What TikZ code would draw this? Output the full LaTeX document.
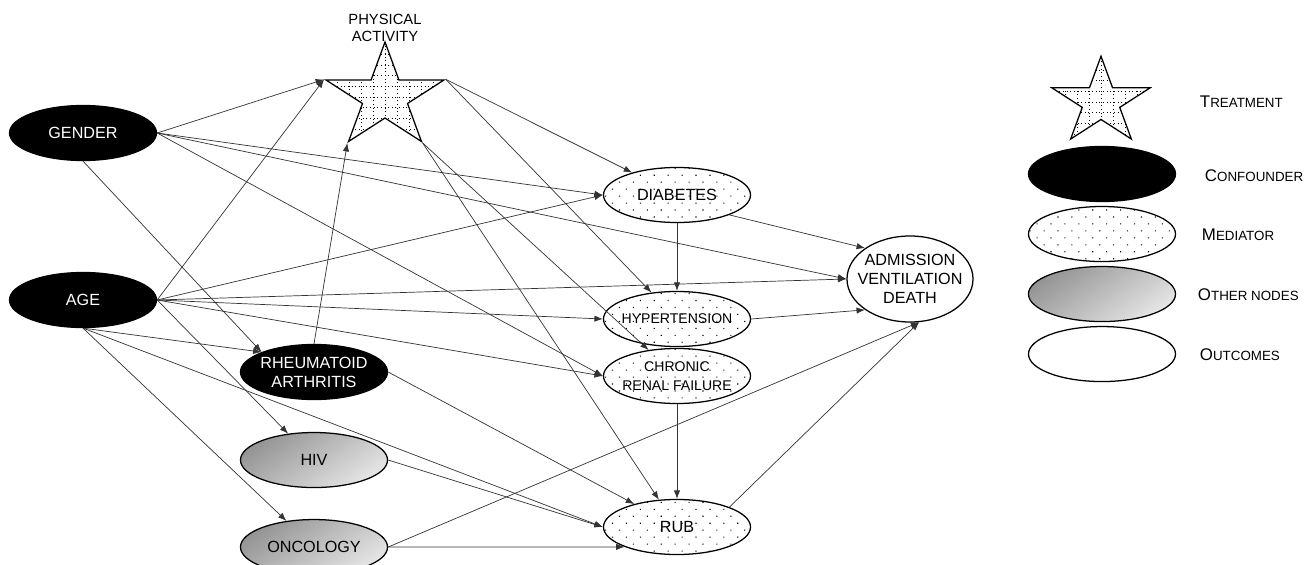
\documentclass[tikz,border=0pt]{standalone}
\usepackage{fontspec}
\setmainfont{Liberation Sans}
\usetikzlibrary{arrows.meta,shapes,positioning,patterns.meta}
\tikzset{>={Latex[length=6pt,width=4.5pt]}}
\newcommand\smc[2]{#1{\fontsize{9.5}{11}\selectfont #2}}

\tikzset{
  base/.style={ellipse, draw, line width=0.9pt, minimum width=3.675cm,
    minimum height=1.375cm, inner xsep=-8pt, inner ysep=0pt, align=center,
    font=\fontsize{11.5}{13.5}\selectfont},
  confounder/.style={base, fill=black, text=white},
  mediator/.style={base, preaction={fill=white},
    pattern={Dots[distance=7pt, radius=0.55pt, angle=45]}},
  other/.style={base, top color=black!42, bottom color=black!10, shading angle=35},
  outcome/.style={base, fill=white},
  treatment/.style={star, star points=5, star point ratio=2.618, draw,
    line width=0.9pt, inner sep=0pt, transform shape,
    path picture={\draw[dotted, line width=0.6pt, step=0.3cm]
      (path picture bounding box.south west) grid (path picture bounding box.north east);}},
  legtext/.style={anchor=west, font=\fontsize{12}{14}\selectfont},
  every edge/.append style={draw=black!80, line width=0.5pt}
}

\begin{document}
\begin{tikzpicture}[x=0.025cm, y=0.025cm]
  \useasboundingbox (0,0) rectangle (1304,-565);

  % treatment
  \begin{scope}[shift={(385,-97)}, yscale=0.887]
    \node[treatment, minimum size=3.1cm] (pa) at (0,0) {};
  \end{scope}
  \node[align=center, inner sep=0pt, font=\fontsize{10.5}{12}\selectfont,
    above=-1pt of pa.outer point 1] (palabel) {PHYSICAL\\ACTIVITY};

  % confounders and other nodes
  \node[confounder] (gender) at (83,-133) {GENDER};
  \node[confounder] (age) at (83,-300) {AGE};
  \node[confounder] (ra) at (314,-372) {RHEUMATOID\\ARTHRITIS};
  \node[other, below of=ra, node distance=2.2cm] (hiv) {HIV};
  \node[other, below of=hiv, node distance=2.175cm] (onc) {ONCOLOGY};

  % mediators
  \node[mediator] (diab) at (677,-195) {DIABETES};
  \node[mediator, font=\fontsize{10}{13.5}\selectfont] (hyp) at (677,-319) {HYPERTENSION};
  \node[mediator, font=\fontsize{10}{13.5}\selectfont] (crf) at (677,-376) {CHRONIC\\RENAL FAILURE};
  \node[mediator] (rub) at (677,-527) {RUB};

  % outcome
  \node[outcome, minimum width=3.15cm, minimum height=2.15cm, inner xsep=-10pt]
    (out) at (910,-279) {ADMISSION\\VENTILATION\\DEATH};

  \path[->] (gender.east) edge (pa.outer point 2)
            (gender.east) edge (diab.west)
            (gender.east) edge (out.west)
            (gender.east) edge (crf.west)
            (gender.south) edge (ra.north west)
            (age.east) edge (pa.outer point 2)
            (age.east) edge (diab.west)
            (age.east) edge (out.west)
            (age.east) edge (hyp.west)
            (age.east) edge (crf.west)
            (age.east) edge (hiv)
            (age.south) edge (ra.north west)
            (age.south) edge (onc)
            (age.south) edge (rub.west)
            (pa.outer point 5) edge (diab)
            (pa.outer point 5) edge (hyp)
            (pa.outer point 4) edge (crf)
            (pa.outer point 4) edge (rub)
            (ra.north) edge (pa.outer point 3)
            (ra.east) edge (rub)
            (diab.south) edge (hyp.north)
            (diab.south east) edge (out.north west)
            (hyp.east) edge (out.south west)
            (crf.south) edge (rub.north)
            (hiv.east) edge (rub.west)
            (onc.east) edge (rub.south west)
            (onc.east) edge (out.-78)
            (rub.north east) edge (out.-78);

  % legend
  \begin{scope}[shift={(1101,-102)}, yscale=0.887]
    \node[treatment, minimum size=2.58cm] (ltreat) at (0,0) {};
  \end{scope}
  \node[confounder] (lconf) at (1102,-174) {};
  \node[mediator, below of=lconf, node distance=1.5cm] (lmed) {};
  \node[other, below of=lmed, node distance=1.5cm] (loth) {};
  \node[outcome, below of=loth, node distance=1.5cm] (lout) {};

  \node[legtext] (ttreat) at (1195,-102) {\smc{T}{REATMENT}};
  \node[legtext] (tconf) at (1200,-176) {\smc{C}{ONFOUNDER}};
  \node[legtext] (tmed) at (1197,-235) {\smc{M}{EDIATOR}};
  \node[legtext] (toth) at (1193,-295) {\smc{O}{THER NODES}};
  \node[legtext] (tout) at (1195,-355) {\smc{O}{UTCOMES}};
\end{tikzpicture}
\end{document}
